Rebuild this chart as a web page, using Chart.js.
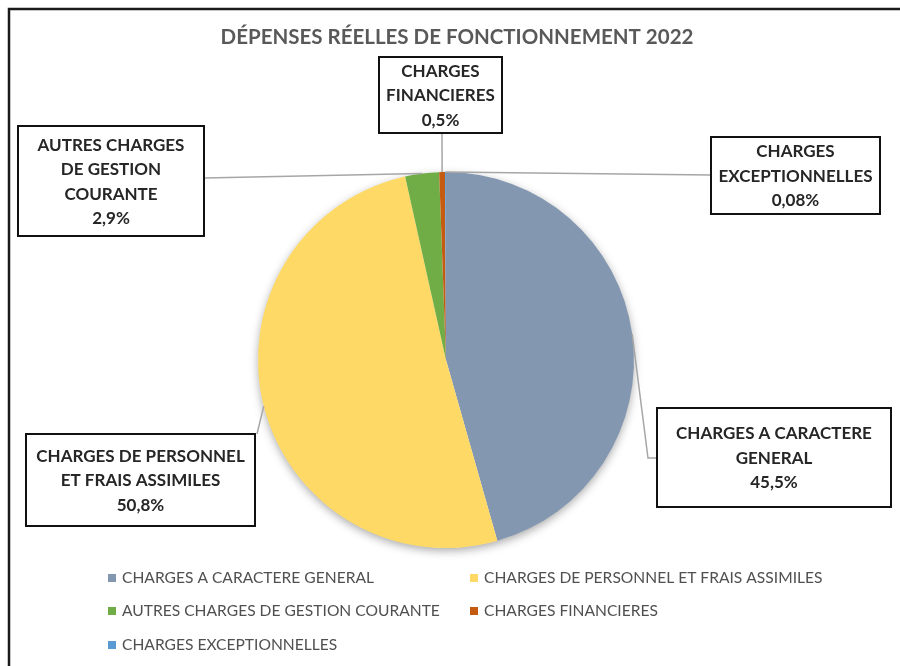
<!DOCTYPE html>
<html>
<head>
<meta charset="utf-8">
<script src="https://cdn.jsdelivr.net/npm/chart.js@4.4.1/dist/chart.umd.min.js"></script>
<style>
  html, body { margin: 0; padding: 0; background: #fff; }
  #wrap { width: 900px; height: 666px; }
</style>
</head>
<body>
<div id="wrap"><canvas id="pie"></canvas></div>
<script>
// data (percent of total)
const categories = [
  'CHARGES A CARACTERE GENERAL',
  'CHARGES DE PERSONNEL ET FRAIS ASSIMILES',
  'AUTRES CHARGES DE GESTION COURANTE',
  'CHARGES FINANCIERES',
  'CHARGES EXCEPTIONNELLES'
];
const shares = [45.5, 50.8, 2.9, 0.5, 0.08];
const boxText = [
  ['CHARGES A CARACTERE', 'GENERAL'],
  ['CHARGES DE PERSONNEL', 'ET FRAIS ASSIMILES'],
  ['AUTRES CHARGES', 'DE GESTION', 'COURANTE'],
  ['CHARGES', 'FINANCIERES'],
  ['CHARGES', 'EXCEPTIONNELLES']
];
const colours = ['#8497B0', '#FFD966', '#70AD47', '#C55A11', '#5B9BD5'];
const title = 'DÉPENSES RÉELLES DE FONCTIONNEMENT 2022';

const FONT = 'Lato, "Liberation Sans", sans-serif';

// where the callout boxes sit and how their leader lines bend
const boxes = [
  { x: 657, y: 408, w: 234, h: 99, path: [[648, 458], [657, 458]] },
  { x: 26, y: 434, w: 229, h: 92, path: [[257, 434]] },
  { x: 18, y: 126, w: 186, h: 110, path: [[204, 178]] },
  { x: 379, y: 57, w: 123, h: 76, path: [[442, 133]] },
  { x: 711, y: 137, w: 169, h: 77, path: [[711, 175]] }
];

const pct = v => v.toString().replace('.', ',') + '%';

const shadowPlugin = {
  id: 'pieShadow',
  beforeDatasetsDraw(chart) {
    const arc = chart.getDatasetMeta(0).data[0];
    if (!arc) return;
    const ctx = chart.ctx;
    ctx.save();
    ctx.shadowColor = 'rgba(0,0,0,0.35)';
    ctx.shadowBlur = 10;
    ctx.shadowOffsetY = 3;
    ctx.fillStyle = '#ffffff';
    ctx.beginPath();
    ctx.arc(arc.x, arc.y, arc.outerRadius - 0.5, 0, Math.PI * 2);
    ctx.fill();
    ctx.restore();
  }
};

const decorPlugin = {
  id: 'decor',
  afterDraw(chart) {
    const ctx = chart.ctx;
    ctx.save();

    // frame (only top and left edges are in view)
    ctx.strokeStyle = '#1a1a1a';
    ctx.lineWidth = 2.5;
    ctx.beginPath();
    ctx.moveTo(9, 670);
    ctx.lineTo(9, 9);
    ctx.lineTo(905, 9);
    ctx.stroke();

    // title
    ctx.fillStyle = '#595959';
    ctx.font = 'bold 20.5px ' + FONT;
    ctx.textAlign = 'center';
    ctx.textBaseline = 'middle';
    ctx.fillText(title, 457, 37);

    // leader lines and callout boxes
    const arcs = chart.getDatasetMeta(0).data;
    arcs.forEach((arc, i) => {
      const b = boxes[i];
      const mid = (arc.startAngle + arc.endAngle) / 2;
      const sx = arc.x + Math.cos(mid) * arc.outerRadius;
      const sy = arc.y + Math.sin(mid) * arc.outerRadius;
      ctx.strokeStyle = '#A6A6A6';
      ctx.lineWidth = 1.5;
      ctx.beginPath();
      ctx.moveTo(sx, sy);
      b.path.forEach(p => ctx.lineTo(p[0], p[1]));
      ctx.stroke();

      ctx.fillStyle = '#ffffff';
      ctx.fillRect(b.x, b.y, b.w, b.h);
      ctx.strokeStyle = '#111111';
      ctx.lineWidth = 2;
      ctx.strokeRect(b.x, b.y, b.w, b.h);

      const lines = boxText[i].concat([pct(shares[i])]);
      const lh = 24.5;
      const cx = b.x + b.w / 2;
      const top = b.y + b.h / 2 - (lines.length - 1) * lh / 2 + 1;
      ctx.fillStyle = '#262626';
      ctx.font = 'bold 17px ' + FONT;
      lines.forEach((t, k) => ctx.fillText(t, cx, top + k * lh));
    });

    // legend, two columns
    const colX = [108, 470];
    const rowY = [578, 611, 645];
    ctx.font = '15.6px ' + FONT;
    ctx.textAlign = 'left';
    categories.forEach((name, i) => {
      const x = colX[i % 2];
      const y = rowY[Math.floor(i / 2)];
      ctx.fillStyle = colours[i];
      ctx.fillRect(x, y - 4, 8, 8);
      ctx.fillStyle = '#505050';
      ctx.fillText(name, x + 14, y);
    });

    ctx.restore();
  }
};

new Chart(document.getElementById('pie'), {
  type: 'pie',
  data: {
    labels: categories,
    datasets: [{
      data: shares,
      backgroundColor: colours,
      borderWidth: 0
    }]
  },
  options: {
    responsive: true,
    maintainAspectRatio: false,
    animation: false,
    events: [],
    layout: { padding: { top: 172, bottom: 118, left: 258, right: 266 } },
    plugins: {
      legend: { display: false },
      tooltip: { enabled: false },
      title: { display: false }
    }
  },
  plugins: [shadowPlugin, decorPlugin]
});
</script>
</body>
</html>
